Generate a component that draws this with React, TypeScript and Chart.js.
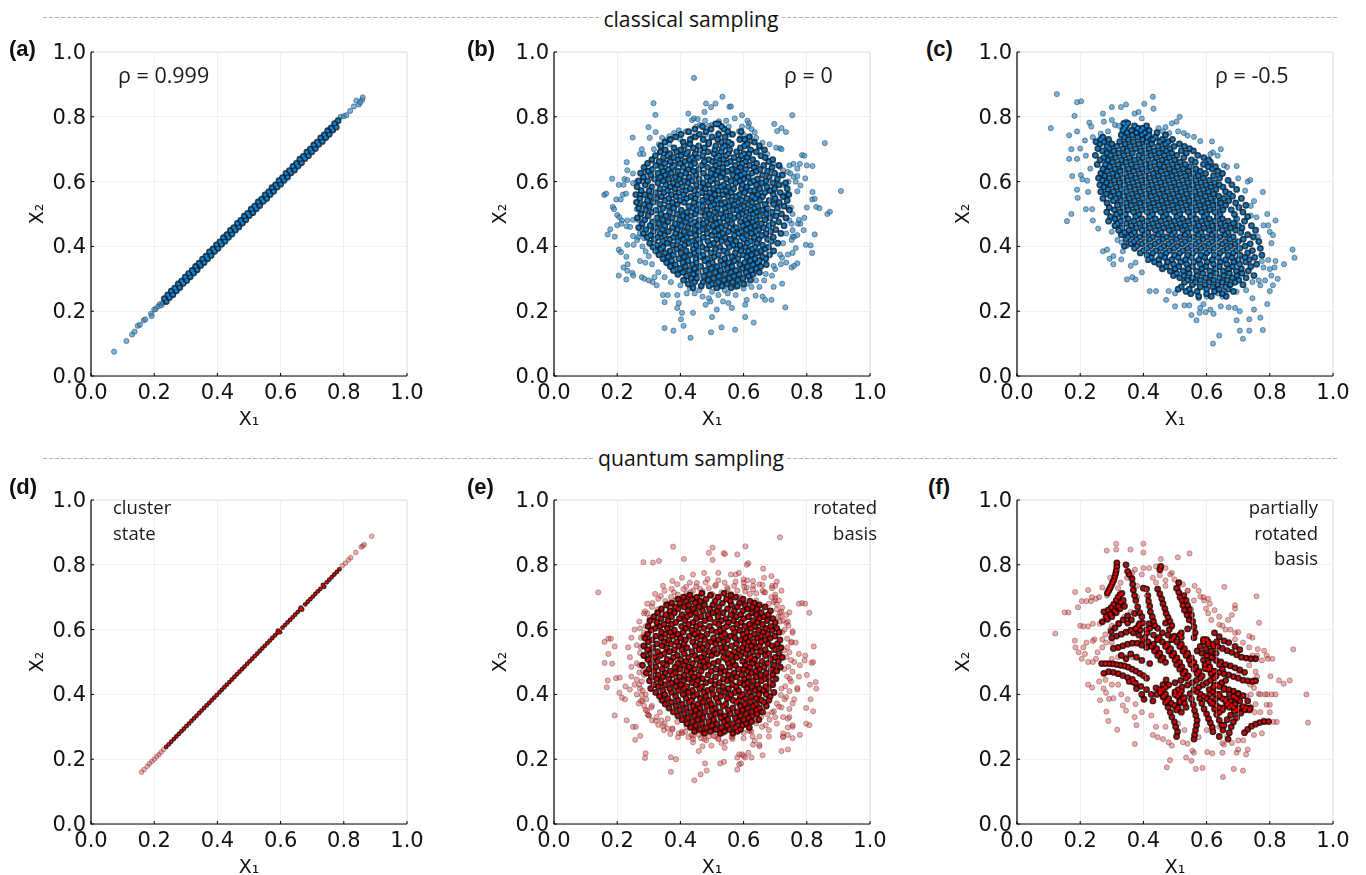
import { useEffect, useRef } from "react";
import { Chart, registerables } from "chart.js";
Chart.register(...registerables);

// All marks are estimated by eye from the picture, in thousandths of the axis.
const tickValues = [0, 0.2, 0.4, 0.6, 0.8, 1];
const xLabel = "X₁";
const yLabel = "X₂";

// flat x,y pairs
const aLoose = [73,75,112,108,130,128,138,137,148,155,155,158,167,172,172,175,190,192,192,185,200,205,205,207,213,215,218,222,223,218,228,226,790,800,800,802,808,805,820,818,832,832,840,850,848,838,858,852,860,860,852,845];
const aDense = [232,239,238,230,243,250,248,242,254,262,259,251,265,271,270,263,276,284,281,273,287,293,292,286,298,305,303,295,309,316,314,306,320,326,325,318,331,338,336,328,342,348,347,341,353,361,358,350,364,370,369,362,375,383,380,372,386,392,391,385,397,405,402,394,408,414,413,407,419,427,424,416,430,436,435,428,441,449,446,438,452,458,457,451,463,471,468,460,474,480,479,472,485,493,490,482,496,502,501,495,507,515,512,504,518,524,523,516,529,537,534,526,540,546,545,539,551,559,556,548,562,568,567,560,573,581,578,570,584,590,589,583,595,603,600,592,606,612,611,604,617,625,622,614,628,634,633,627,639,647,644,636,650,656,655,648,661,669,666,658,672,678,677,671,683,691,688,680,694,700,699,692,705,713,710,702,716,722,721,715,727,735,732,724,738,744,743,736,749,757,754,746,760,766,765,759,771,779,776,768,782,788];
const dLoose = [160,160,168,168,178,178,185,186,193,193,200,200,208,208,215,214,222,222,230,230,795,797,805,805,815,815,822,822,838,838,855,855,860,858,865,862,888,888];
const dDense = [238,238,246,246,254,254,262,262,270,270,278,278,286,286,294,294,302,302,310,310,318,318,326,326,334,334,342,342,350,350,358,358,366,366,374,374,382,382,390,390,398,398,406,406,414,414,422,422,430,430,438,438,446,446,454,454,462,462,470,470,478,478,486,486,494,494,502,502,510,510,518,518,526,526,534,534,542,542,550,550,558,558,566,566,574,574,582,582,590,590,592,597,598,592,606,606,614,614,622,622,630,630,638,638,646,646,654,654,662,662,664,668,668,662,678,678,686,686,694,694,702,702,710,710,718,718,726,726,734,738,738,732,746,746,754,754,762,762,770,770,778,778,786,786];

const bLoose = [443,920,533,862,315,842,481,841,497,830,511,841,555,831,560,832,321,806,425,810,476,815,595,805,754,805,857,719,908,571,299,768,322,753,303,735,249,736,697,778,720,765,706,756,734,753,159,559,165,563,184,609,437,790,443,795,455,793,478,788,522,786,545,788,572,795,612,788,617,780,615,770,625,762,635,752,595,770,553,770,500,775,490,772,462,775,450,770,418,755,395,758,380,750,365,740,342,735,355,728,332,715,316,700,278,700,272,685,283,685,230,660,232,635,250,625,205,590,220,590,186,522,190,515,200,497,207,490,215,480,232,480,250,482,218,560,228,563,197,545,211,545,223,608,232,605,250,595,262,600,170,437,178,453,192,430,200,465,213,470,230,462,241,460,250,432,266,428,205,390,212,382,232,405,252,405,263,420,229,368,233,345,220,335,232,325,248,318,205,310,229,298,251,310,272,355,289,350,278,305,286,300,300,295,325,280,318,305,345,250,360,250,312,290,350,228,395,225,390,210,405,195,440,195,402,175,410,155,350,148,378,140,432,118,497,135,530,150,573,143,632,165,605,182,500,182,515,205,480,220,495,230,535,230,552,225,563,210,605,220,610,235,638,248,660,245,668,235,688,235,695,275,722,285,732,212,390,250,420,255,445,255,470,245,490,240,520,250,550,255,575,250,600,270,625,275,650,275,665,295,690,310,700,330,718,345,735,350,752,335,760,340,770,348,755,430,752,420,760,430,770,435,772,470,780,470,790,450,797,405,812,403,817,380,825,437,792,488,800,520,817,545,825,547,830,522,840,518,865,500,873,507,818,568,775,482,770,570,780,588,765,600,758,615,770,617,795,610,800,650,818,648,785,682,792,680,758,655,778,655,770,640,745,650,742,600,735,555,750,520,755,500,752,470,755,450,765,395,755,380,740,375,722,365,715,645,725,635,740,630,748,625,703,705,715,703,720,700,682,715,660,720,640,735,620,740,600,745,585,755,270,560,268,530,262,515,275,500,268,480,275,460,272,440,285,425,280,400,290,385,300,370,310,345,330,320,350,305,370,290,400,280,430,270,460,265,500,260,540,265,575,275,610,285,640,295,670,315,695,340,715,375,725,410,735,440,745,480,740,520,735,560,725,590,712,620,695,655,675,685,650,705,625,725,590,735,555,745,520,750,480,745,440,740,400,730,365,715,335,690,310,665,290,630,278,600];
// rows: first number is x2, the rest are x1 values
const bCore = [
[778,512,520],[770,470,530],[762,446,538,497],[754,426,481,550,592],[746,402,460,521,565],[738,385,447,500,541,618],[730,368,431,472,518,588,604],[722,351,409,490,530,552,634],[716,430,489,561,612],[710,338,412,458,512,541,603,650],[704,380,441,476,533,590],[698,352,401,463,509,556,622,666],[692,337,388,423,487,529,578,640],[686,366,418,447,506,552,601,617],[680,321,359,402,471,522,544,593,655],[674,347,379,436,455,515,570,611,668],[668,310,392,428,490,536,584,629,692],[662,333,368,414,476,501,558,606,680],[656,296,351,399,445,523,547,596,641],[650,322,381,433,467,512,574,619,664,712],[644,285,340,374,409,486,534,590,633,690],[638,311,362,425,458,503,563,607,652],[632,298,345,392,441,518,549,581,640,676],[626,274,329,371,417,473,497,535,602,626,698],[620,306,352,401,449,512,566,592,660,723],[614,283,337,384,428,484,527,578,615,681],[608,318,363,396,459,503,545,601,644,707],[602,268,296,346,412,437,495,560,588,632,671],[596,329,377,424,472,516,575,621,658,693,733],[590,289,354,391,451,489,537,596,640,712],[584,263,310,368,406,463,528,552,610,674],[578,336,383,431,479,505,569,593,651,698,738],[572,276,301,359,417,445,520,544,621,633,684],[566,322,348,395,468,493,561,603,667,716],[560,259,287,372,410,455,509,534,587,645,694,743],[554,305,340,386,433,482,551,576,628,660,725],[548,272,325,363,420,447,498,523,610,637,700],[542,296,351,399,469,515,562,594,652,681,738],[536,261,314,375,412,443,488,541,583,627,713],[530,284,335,390,458,506,530,571,614,668,695],[524,302,362,427,470,496,553,601,645,728],[518,268,345,379,439,517,541,590,634,675,707],[512,290,323,403,452,484,566,579,622,660,745],[506,310,366,421,465,508,545,609,641,690],[500,275,338,389,447,491,527,596,630,672,720],[494,298,355,408,433,478,558,584,651,703],[488,264,326,374,422,510,536,570,617,684,734],[482,287,345,398,460,497,549,606,640,668],[476,312,361,417,444,483,525,590,629,711],[470,279,332,384,436,473,514,563,612,656,692],[464,304,351,403,455,504,544,598,636,680,728],[458,268,323,375,424,489,530,577,621,663],[452,291,343,391,446,470,519,567,609,648,702],[446,314,362,412,460,508,552,593,639,686],[440,283,336,385,431,485,534,584,625,671,718],[434,305,350,400,448,499,522,571,610,657],[428,295,328,378,420,472,542,595,634,694],[422,318,366,409,456,515,558,601,648,676],[416,344,392,437,487,530,576,622,688],[410,303,358,427,462,506,549,612,642,708],[404,326,376,413,450,493,567,589,660],[398,313,345,399,469,525,555,606,636,679],[392,338,388,441,483,511,578,627,668],[386,322,367,418,456,537,592,615,655,695],[380,352,402,444,497,548,574,642],[374,332,378,431,472,520,598,625,682],[368,361,412,463,507,563,610,660],[362,345,395,449,486,540,582,636,670],[356,372,424,477,528,571,621,650],[350,356,408,451,501,553,603,644],[344,384,438,490,537,588,630,672],[338,368,416,464,516,563,612,654],[332,399,445,498,549,596,640],[326,378,428,480,527,576,624],[320,408,456,511,560,608,650],[314,392,441,492,541,586,630],[308,420,474,522,569,616],[302,434,452,505,555,598],[296,410,488,538,582,622],[290,445,472,520,565],[284,425,500,547,600],[278,466,491,532,580],[272,440,515,560]
];

const cLoose = [126,870,107,765,190,845,203,848,182,803,165,743,190,755,172,700,165,670,175,617,158,478,172,500,192,550,190,575,202,620,207,607,229,782,235,770,240,737,215,727,200,702,190,670,218,680,232,640,222,603,225,568,218,515,238,515,240,480,257,455,272,385,285,390,293,362,305,370,305,345,348,298,375,298,335,385,348,402,331,412,318,420,300,445,310,465,275,785,272,810,300,830,329,830,345,838,372,810,385,815,403,840,430,862,432,825,395,795,345,785,300,790,310,775,322,772,288,755,265,748,515,800,505,785,490,780,470,768,448,765,462,755,482,750,510,755,528,750,540,742,560,738,580,725,617,724,645,700,620,690,612,685,635,680,655,650,665,645,695,648,700,610,730,600,738,605,778,568,750,540,722,572,740,525,740,495,758,490,792,500,795,465,818,480,780,465,800,445,810,435,762,430,805,410,872,390,878,365,845,345,818,355,795,358,775,355,780,335,800,330,815,335,805,310,825,300,810,280,800,262,770,280,745,290,765,295,785,295,792,222,778,142,735,175,705,200,705,140,715,115,620,100,640,125,568,172,552,188,500,215,530,218,545,218,472,235,440,262,420,262,365,305,395,320,360,340,375,350,330,360,578,195,597,197,622,192,612,205,645,215,670,212,690,210,695,172,735,140,695,260,725,265,745,240,750,205,770,180,650,245,660,250,635,255,600,245,575,240,545,262,500,255,480,262,590,222,580,210];
const cCore = [
[780,338,351],[772,345,372,410],[765,340,382,398],[758,335,392,362,418],[751,348,378,405,443],[744,330,395,365,418,470],[737,272,340,382,412,438],[730,265,290,352,398,430,460,492],[723,250,275,325,368,410,452,478],[716,262,300,342,385,426,470,514],[709,285,316,358,402,446,497,530],[702,256,292,335,375,418,461,484,546],[695,270,306,348,391,434,472,520,558],[688,285,322,365,409,450,490,536],[681,248,296,338,386,424,466,506,572],[674,275,312,356,398,441,482,528,591],[667,263,288,331,372,415,459,499,552,606],[660,302,345,390,435,474,516,564,612],[653,254,280,320,362,407,451,492,532,590],[646,293,335,378,422,465,508,548,605,628],[639,272,310,353,396,441,482,526,566,618],[632,285,326,369,412,456,498,542,580,636],[625,265,303,343,387,431,474,516,558,597,650],[618,278,317,360,405,447,490,534,574,622],[611,258,292,334,376,420,463,506,550,590,641],[604,270,308,350,394,437,480,524,566,608,668],[597,283,324,367,410,454,497,540,582,625],[590,262,296,340,384,427,470,513,556,598,640,680],[583,275,314,357,400,444,488,531,572,614,652],[576,288,330,373,417,460,504,547,590,630,695],[569,265,305,346,390,433,476,520,563,606,660],[562,283,322,364,408,451,494,537,580,622,672],[555,296,338,381,424,468,511,554,596,638,682],[548,272,313,355,398,442,485,528,571,613,654,710],[541,305,329,372,415,458,502,545,588,630,670],[534,285,346,389,432,475,518,561,604,645,692],[527,318,361,405,448,492,535,578,620,660,724],[520,292,335,378,422,465,508,551,594,636,702],[513,308,352,395,438,481,525,568,610,652,678],[506,284,326,369,412,455,498,542,584,626,715],[499,315,343,386,429,472,515,558,600,642,688],[492,296,334,376,420,463,506,549,592,634,730],[485,310,352,395,438,481,524,567,609,650,695],[478,290,328,370,412,455,498,541,584,626,668,720],[471,318,346,388,430,473,516,559,602,644,685],[464,310,362,404,447,490,532,575,618,660,700,742],[457,332,378,420,464,507,550,592,634,676,712],[450,322,354,396,438,481,524,566,608,650,692,755],[443,340,372,414,456,498,541,583,626,668,708],[436,330,362,404,447,490,532,574,617,658,730],[429,352,388,430,473,516,558,600,642,684,748],[422,345,378,420,462,505,547,589,632,674,716],[415,370,405,448,490,532,575,617,660,700,765],[408,360,395,437,480,522,565,607,650,690,738],[401,340,380,422,465,507,550,592,634,676,722],[394,372,412,455,497,540,582,624,666,705,770],[387,400,440,482,525,567,609,652,694,745],[380,390,430,472,515,557,600,642,684,730],[373,412,455,498,540,582,625,668,706,775],[366,425,468,510,552,594,637,680,722,752],[359,415,448,490,533,575,618,660,700,735],[352,435,476,518,560,602,644,686,724],[345,450,495,537,580,622,664,704,758],[338,472,512,555,598,640,682,740],[331,460,500,542,585,628,670,710],[324,485,526,568,610,652,694,732],[317,505,545,588,630,672,712],[310,495,528,570,612,654,696,750],[303,515,555,597,640,682,725],[296,540,580,622,665,702],[289,530,565,608,650,690],[282,555,595,635,675,715],[275,520,580,620,660],[268,510,545,600,640,668],[261,535,570,625,685],[254,550,600,650],[246,575,615,662]
];

const eLoose = [715,885,377,856,606,857,502,853,490,837,537,836,541,833,580,832,411,818,502,815,283,808,313,807,332,812,140,715,382,580,160,562,172,572,180,572,192,548,172,525,160,497,184,495,196,450,208,452,170,443,167,422,207,405,226,425,240,415,215,390,225,385,192,335,230,320,250,300,259,300,257,260,273,272,290,218,288,204,370,206,386,200,370,161,444,135,464,153,483,165,478,187,526,187,538,192,592,187,586,184,580,168,586,215,600,210,615,220,720,225,650,240,630,245,680,270,740,275,755,265,778,275,798,310,755,300,820,348,798,358,812,385,830,418,828,438,820,500,822,548,795,520,808,652,795,680,785,682,775,680,745,653,735,645,705,748,700,735,688,765,662,788,615,805,610,800,585,775,575,770,590,540,793,505,815,497,800,460,810,430,770,415,755,372,745,330,755,305,725,270,725,280,808,305,740,325,725,268,740,230,650,245,635,257,628,270,620,288,605,205,660,212,625,205,595,215,580,205,540,235,530,250,520,265,498,242,475,262,470,240,458,225,440,252,425,268,395,280,360,295,340,320,300,335,285,365,275,380,262,400,255,430,245,455,245,485,240,515,235,545,245,575,255,600,270,625,285,650,295,680,320,710,345,735,375,750,405,760,440,770,475,775,520,775,560,770,600,755,630,735,665,715,695,685,720,655,740,625,755,595,765,560,775,525,778,490,775,455,770,420,760,385,745,355,725,330,705,310,680,290,650,270,620];
const eRing = [605,715,625,710,640,705,662,700,690,720,720,700,700,690,735,680,680,665,760,670,645,660,720,650,740,640,690,630,750,620,710,610,730,600,745,590,700,580,720,570,735,560,710,550,725,540,745,530,715,520,700,510,735,500,710,490,728,480,745,470,712,460,700,450,733,440,720,430,745,420,705,410,725,400,690,390,740,380,715,370,700,360,680,350,720,340,660,330,695,320,640,310,670,300,620,295,650,285,590,290,610,275,575,275,545,285,520,270,490,285,460,270,430,290,400,280,380,295,350,310,365,325,330,335,345,350,310,360,325,375,295,390,315,405,285,420,300,435,275,450,295,465,265,475,285,490,270,505,290,520,262,535,280,550,300,565,270,585,290,600,265,610,305,625,285,640,310,655,330,670,305,690,345,700,330,720,360,730,385,745,410,750,440,755,470,760,500,745,530,750,560,755,590,735,620,740,
298,640,318,675,338,705,372,718,398,732,425,738,455,742,485,735,515,738,545,738,572,730,600,725,628,715,652,705,678,688,700,668,715,640,712,605,718,580,700,545,715,505,705,470,718,445,698,420,712,385,692,365,670,342,648,322,625,305,600,295,572,288,548,295,508,282,472,278,440,280,412,292,385,308,360,300,335,322,318,345,302,375,292,405,280,440,272,470,282,510,270,528,278,565,262,590,295,615,
288,658,300,682,322,696,348,712,362,735,392,720,418,746,448,728,478,750,506,728,536,752,562,722,592,742,612,718,640,722,668,712,690,700,708,690,728,660,738,630,724,612,752,602,732,575,748,548,730,520,752,512,738,486,756,462,726,452,744,432,716,418,732,392,708,372,726,352,688,338,704,328,662,312,682,302,636,288,656,272,604,282,580,262,552,272,528,262,496,270,468,262,446,272,418,278,398,268,372,290,352,296,338,310,320,330,306,348,290,368,278,392,268,415,284,440,262,458,276,482,258,505,272,542,254,562,268,600,282,622];
const eCore = [
[712,468,538],[706,430,495,560],[700,410,452,520,575],[694,392,437,481,546,598],[688,418,463,510,558,620],[682,372,399,447,533,587,634],[676,356,426,476,503,561,605,650],[670,384,412,459,522,580,628,668],[664,340,393,441,492,549,612,643],[658,367,424,470,516,571,598,685],[652,328,381,448,503,535,626,656],[646,354,405,431,487,560,590,640,678],[640,316,372,422,465,519,577,615,664],[634,339,397,451,493,544,600,650,692],[628,304,361,414,478,530,568,630,675],[622,326,385,440,509,552,592,644,700],[616,348,372,426,463,521,579,618,660],[610,298,335,404,451,492,546,604,636,686],[604,320,359,417,474,537,566,624,670,705],[598,308,381,436,499,525,588,648,690],[592,340,368,409,456,515,572,610,662,712],[586,296,352,392,445,484,540,598,634,676],[580,322,375,428,466,530,558,621,655,699],[574,288,339,400,453,505,573,606,643,684],[568,310,363,416,477,520,549,590,668,715],[562,298,348,388,439,496,537,615,632,656],[556,326,370,411,462,512,577,603,677,707],[550,284,342,395,447,486,562,624,650,690],[544,312,356,421,470,528,544,597,640,718],[538,296,381,405,459,507,585,612,668,698],[532,328,366,437,490,533,571,628,654],[526,305,349,412,476,515,552,606,680,712],[520,284,337,390,446,499,562,590,645,669],[514,318,378,426,465,537,578,622,700,722],[508,298,358,401,452,484,546,614,635,686],[502,327,369,418,473,520,565,597,658,710],[496,306,345,392,438,505,552,628,676],[490,280,356,411,461,489,574,606,643,696],[484,322,383,428,478,530,556,620,665,716],[478,300,342,399,445,512,584,600,650,688],[472,316,367,420,466,498,541,612,638,705],[466,292,352,384,434,527,570,625,672],[460,330,375,412,458,488,552,594,654,692],[454,308,344,397,443,511,578,615,640,680],[448,325,363,426,470,536,562,603,668,702],[442,302,388,410,455,497,548,630,656],[436,338,372,437,481,523,588,612,684],[430,316,352,402,449,509,565,601,644,692],[424,330,385,420,467,535,576,626,670],[418,306,366,412,461,500,552,610,650,678],[412,344,393,438,486,522,584,636,662],[406,322,372,426,474,541,572,618,696],[400,350,409,452,503,560,598,648,672],[394,334,385,441,480,527,590,625,684],[388,360,418,463,514,548,606,640],[382,342,392,436,491,566,586,656,680],[376,372,428,472,520,578,622,664],[370,352,406,455,498,544,604,640],[364,386,440,484,535,590,630,672],[358,364,418,462,510,566,612,650],[352,398,448,500,552,596,640],[346,378,432,478,526,580,626,660],[340,412,460,512,558,608,642],[334,392,444,495,540,590,628],[328,424,472,528,574,616],[322,406,456,505,550,600,648],[316,438,490,538,584,625],[310,420,468,516,566,608],[304,448,500,548,596],[298,432,482,530,575,618],[292,462,512,556,590],[286,445,495,540,580],[280,476,526,566]
];

const fLoose = [121,588,151,653,163,653,184,716,183,566,193,669,284,844,314,865,314,847,359,847,400,865,400,838,455,818,509,823,546,835,656,732,758,703,766,621,874,539,916,400,921,313,829,443,844,433,863,443,802,456,794,510,808,510,652,145,686,170,715,165,587,173,566,170,474,175,484,197,490,242,373,247,317,291,289,318,283,347,263,382,238,421,225,430,291,386,274,418,282,405,305,388,335,366,345,350,372,330,378,305,430,275,445,268,462,262,480,252,525,252,540,248,555,226,560,220,535,205,552,195,602,222,618,218,650,220,655,245,665,270,695,220,725,215,730,230,750,275,775,280,700,230,680,250,700,258,716,258,752,345,770,345,790,368,800,368,792,400,806,400,818,400,785,400,800,345,780,320,822,315,812,315,775,505,782,535,790,520,762,540,735,545,745,520,755,470,760,455,750,445,765,402,740,400,725,395,690,590,700,592,660,600,650,612,640,615,615,630,605,650,598,665,690,675,680,645,690,665,610,680,592,690,580,702,560,690,540,720,525,740,490,775,470,790,510,745,470,752,452,768,440,795,418,790,400,790,395,770,373,785,365,775,348,760,328,745,320,728,380,735,370,722,225,722,237,700,250,695,260,700,295,760,285,705,270,730,205,688,220,688,234,688,185,545,195,530,210,545,220,560,205,510,215,525,225,500,240,500,250,510,210,610,225,610,240,618,200,612,262,618,270,625,240,565,245,570,270,570,280,585,295,600,300,612,255,530,270,545,282,560,
430,760,440,745,470,735,485,770,498,755,510,730,540,720,562,735,575,720,590,700,605,695,625,660,640,640,668,630,675,600,690,570,715,560,735,580,745,575,760,520,702,470,735,490,738,430,750,420,770,400,740,360,755,370,650,250,640,300,600,290,575,268,530,290,510,310,470,300,440,300,425,335,395,345,375,370,350,385,330,400,320,430,300,430,280,445,260,440,300,510,320,515,345,515,365,515,300,560,320,620,340,640,360,655,380,700];
const fBands = [
286,713,290,720,294,727,298,735,302,744,306,752,309,762,312,772,314,782,316,795,316,806,
275,655,288,660,298,668,306,678,314,690,320,700,326,708,332,712,
282,640,296,648,308,658,320,672,328,684,336,690,
270,624,286,632,300,640,314,652,326,664,340,672,
298,594,310,605,322,618,336,630,350,642,
345,800,350,780,355,770,364,757,366,740,368,722,372,705,376,690,382,670,388,652,395,640,
400,728,410,725,414,705,416,688,420,672,422,655,428,640,432,625,436,612,
445,725,452,710,458,695,462,680,468,665,472,650,478,638,484,625,490,612,
455,795,452,785,512,745,505,728,512,715,516,700,522,690,525,675,530,660,538,645,545,630,
528,705,535,690,540,675,548,662,552,645,556,625,560,608,564,590,
268,495,280,495,292,495,304,494,316,492,328,490,340,488,352,484,364,478,376,472,388,465,400,458,410,450,
275,465,290,470,305,468,320,464,335,458,350,452,365,446,
305,542,320,545,335,550,350,555,365,558,380,558,395,552,410,545,
300,575,315,580,330,586,345,592,360,598,375,602,390,598,
590,570,605,562,620,555,635,548,650,542,665,535,680,530,695,522,710,515,725,512,740,510,755,510,
595,480,610,478,625,472,640,468,655,464,670,460,685,455,700,450,715,444,730,442,745,440,755,442,
600,520,615,515,630,505,645,500,660,492,675,488,690,482,705,476,720,468,
625,428,640,425,655,420,670,415,685,410,700,402,715,396,730,380,
560,262,562,275,565,290,568,305,570,320,566,335,562,350,558,368,552,385,548,402,
505,270,508,285,502,300,498,315,490,330,485,345,478,360,470,375,462,392,452,405,440,420,
620,285,618,298,612,312,606,325,600,340,592,355,585,372,578,388,
640,270,652,290,648,305,640,320,632,338,625,355,615,372,
720,282,730,292,742,302,755,308,768,313,782,316,796,316,
668,262,672,282,678,300,685,315,695,328,708,342,720,352,738,358,
655,305,665,322,676,336,688,348,702,358,715,362,
640,345,652,358,664,368,676,380,688,392,700,402,
430,380,442,400,452,415,462,430,472,445,
395,400,402,385,378,418,368,438,355,440,375,435,392,425,410,415,425,400,
330,520,345,510,360,525,378,515,395,505,420,495,
350,620,362,630,372,650,385,612,398,620,410,600,
470,620,482,600,498,580,520,590,540,602,560,575,
625,590,640,578,655,565,670,560,690,548,705,538,
610,400,628,385,640,400,660,385,672,360,690,370,
520,345,535,360,515,375,530,390,500,400,520,410
];
const fCore = [
[618,388,418],[604,378,420,445],[590,368,412,460],[583,385,432,478,515],[576,405,450,494,520],[569,398,444,490,600],[562,415,460,506,590,632],[555,432,476,520,605],[548,425,470,515,580,622],[541,442,486,530,598],[534,435,480,525,570,614],[527,452,496,540,585,630],[520,445,490,535,602],[513,462,506,552,618],[506,455,500,545,590],[499,470,515,560,605],[492,505,550,595,640],[485,522,566,610],[478,515,560,604,650],[471,532,576,622],[464,525,570,614],[457,542,586,630],[450,535,580,624],[443,518,568,612,660],[436,500,555,600,648],[429,480,540,588,634],[422,470,522,575,622],[415,462,510,560,608,655],[408,455,500,570,620],[401,470,515,580,630,672],[394,465,508,590,640,685],[387,480,525,600,650,695],[380,475,515,610,660,705],[373,488,530,620,668],[366,498,630,678],[359,510,640,685,725],[352,505,650,695,735]
];

const panels = [
  { tag: "(a)", color: "blue", loose: aLoose, bands: aDense, rows: [], seams: [], left: 90.5, top: 51.5, tagX: 9, tagY: 36 },
  { tag: "(b)", color: "blue", loose: bLoose, bands: [], rows: bCore, seams: [[315,300,650],[460,300,720],[680,340,560]], left: 554, top: 51.5, tagX: 467, tagY: 36 },
  { tag: "(c)", color: "blue", loose: cLoose, bands: [], rows: cCore, seams: [[335,450,650],[405,330,720],[555,300,650],[630,300,550],[700,350,530]], left: 1017, top: 51.5, tagX: 926, tagY: 36 },
  { tag: "(d)", color: "red", loose: dLoose, bands: dDense, rows: [], seams: [], left: 90.5, top: 499.5, tagX: 9, tagY: 474 },
  { tag: "(e)", color: "red", loose: [...eLoose, ...eRing], bands: [], rows: eCore, seams: [[310,420,600],[680,400,520]], left: 554, top: 499.5, tagX: 467, tagY: 474 },
  { tag: "(f)", color: "red", loose: fLoose, bands: fBands, rows: fCore, seams: [[405,430,730],[555,370,670],[630,330,550],[700,300,370]], left: 1017, top: 499.5, tagX: 928, tagY: 474 },
];

const notes = [
  { lines: ["ρ = 0.999"], x: 118, y: 62, size: 21.5, right: false },
  { lines: ["ρ = 0"], x: 784, y: 62, size: 21.5, right: false },
  { lines: ["ρ = -0.5"], x: 1215, y: 62, size: 21.5, right: false },
  { lines: ["cluster", "state"], x: 113, y: 494, size: 18.5, right: false },
  { lines: ["rotated", "basis"], x: 877, y: 494, size: 18.5, right: true },
  { lines: ["partially", "rotated", "basis"], x: 1318, y: 494, size: 18.5, right: true },
];
const headings = [
  { text: "classical sampling", y: 17, dy: -12.5 },
  { text: "quantum sampling", y: 458, dy: -14.5 },
];

const STYLE: any = {
  blue: { looseBg: "rgba(45,140,205,0.65)", looseEdge: "rgba(40,60,75,0.55)", under: "rgba(5,38,62,0.88)", coreBg: "rgb(18,132,212)", coreEdge: "rgba(0,20,40,0)" },
  red: { looseBg: "rgba(225,50,50,0.42)", looseEdge: "rgba(60,40,40,0.38)", under: "rgba(40,0,0,0.88)", coreBg: "rgb(226,0,0)", coreEdge: "rgba(30,0,0,0)" },
};

const pairs = (flat: number[]) => {
  const out = [];
  for (let i = 0; i + 1 < flat.length; i += 2) out.push({ x: flat[i] / 1000, y: flat[i + 1] / 1000 });
  return out;
};
const unrow = (rows: number[][]) => rows.flatMap(([y, ...xs]) => xs.map((x) => ({ x: x / 1000, y: y / 1000 })));
// draw order only: overlap should not follow the typed rows
const mixed = (pts: { x: number; y: number }[]) =>
  pts.map((p) => [((p.x * 1000 * 7919 + p.y * 1000 * 104729) | 0) % 1009, p] as const).sort((a, b) => a[0] - b[0]).map((e) => e[1]);

const framePlugin = {
  id: "frame",
  beforeDatasetsDraw(chart: any) {
    const { ctx, chartArea: c } = chart;
    ctx.save();
    ctx.strokeStyle = "#e2e2e2";
    ctx.lineWidth = 1;
    ctx.beginPath();
    ctx.moveTo(c.left, c.top);
    ctx.lineTo(c.right, c.top);
    ctx.lineTo(c.right, c.bottom);
    ctx.stroke();
    ctx.restore();
  },
  afterDatasetsDraw(chart: any, _a: any, opts: any) {
    const { ctx, chartArea: c, scales } = chart;
    ctx.save();
    ctx.strokeStyle = "rgba(200,208,215,0.4)";
    ctx.lineWidth = 1;
    for (const [x, y0, y1] of opts.seams) {
      const px = Math.round(scales.x.getPixelForValue(x / 1000)) + 0.5;
      ctx.beginPath();
      ctx.moveTo(px, scales.y.getPixelForValue(y0 / 1000));
      ctx.lineTo(px, scales.y.getPixelForValue(y1 / 1000));
      ctx.stroke();
    }
    ctx.strokeStyle = "#000";
    ctx.lineWidth = 1.2;
    ctx.beginPath();
    ctx.moveTo(c.left, c.top);
    ctx.lineTo(c.left, c.bottom);
    ctx.lineTo(c.right, c.bottom);
    ctx.stroke();
    ctx.lineWidth = 1;
    ctx.beginPath();
    for (const t of tickValues) {
      const px = scales.x.getPixelForValue(t);
      const py = scales.y.getPixelForValue(t);
      ctx.moveTo(px, c.bottom);
      ctx.lineTo(px, c.bottom - 3);
      ctx.moveTo(c.left, py);
      ctx.lineTo(c.left + 3, py);
    }
    ctx.stroke();
    ctx.restore();
  },
};

function Panel({ p }: { p: (typeof panels)[number] }) {
  const ref = useRef<HTMLCanvasElement>(null);
  useEffect(() => {
    const s = STYLE[p.color];
    const thin = p.tag === "(d)";
    const dot = (data: any[], bg: string, edge: string, r: number, w: number) => ({
      data,
      backgroundColor: bg,
      borderColor: edge,
      borderWidth: w,
      pointRadius: r,
      pointHoverRadius: r,
    });
    const axisFont = { family: "'DejaVu Sans'", size: 21 };
    const titleFont = { family: "'DejaVu Sans'", size: 19 };
    const common = {
      min: 0,
      max: 1,
      type: "linear",
      grid: { color: "#f0f0f0", lineWidth: 1, drawTicks: false },
      border: { display: false },
    };
    const core = mixed(pairs(p.bands).concat(unrow(p.rows)));
    const chart = new Chart(ref.current!, {
      type: "scatter",
      data: {
        // Chart.js paints the first dataset last, so the bright dots come first
        datasets: [
          dot(core, s.coreBg, s.coreEdge, thin ? 1.2 : 1.6, 0),
          dot(core, s.under, s.under, thin ? 2.4 : 3.4, 0),
          dot(pairs(p.loose), s.looseBg, s.looseEdge, thin ? 2.4 : 2.6, 0.9),
        ],
      },
      plugins: [framePlugin],
      options: {
        animation: false,
        responsive: false,
        clip: false,
        layout: { padding: { top: 20, right: 30, left: 0, bottom: 0 } },
        plugins: { legend: { display: false }, tooltip: { enabled: false }, frame: { seams: p.seams } },
        scales: {
          x: {
            ...common,
            afterFit: (sc: any) => { sc.height = 55; },
            afterBuildTicks: (sc: any) => { sc.ticks = tickValues.map((value) => ({ value })); },
            ticks: { color: "#111", font: axisFont, padding: 5, maxRotation: 0, autoSkip: false, callback: (v: any) => Number(v).toFixed(1) },
            title: { display: true, text: xLabel, color: "#111", font: titleFont, padding: 0 },
          },
          y: {
            ...common,
            afterFit: (sc: any) => { sc.width = 64; },
            afterBuildTicks: (sc: any) => { sc.ticks = tickValues.map((value) => ({ value })); },
            ticks: { color: "#111", font: axisFont, padding: 5, labelOffset: 1.5, autoSkip: false, callback: (v: any) => Number(v).toFixed(1) },
            title: { display: true, text: yLabel, color: "#111", font: titleFont, padding: { top: 0, bottom: 0 } },
          },
        },
      } as any,
    } as any);
    return () => chart.destroy();
  }, [p]);
  return (
    <canvas
      ref={ref}
      width={64 + 316 + 30}
      height={20 + 324 + 55}
      style={{ position: "absolute", left: p.left - 64, top: p.top - 20, width: 410, height: 399 }}
    />
  );
}

export default function App() {
  return (
    <div style={{ position: "absolute", left: 0, top: 0, width: 1366, height: 875, background: "#fff", overflow: "hidden" }}>
      {panels.map((p) => <Panel key={p.tag} p={p} />)}
      {panels.map((p) => (
        <div key={p.tag + "t"} style={{ position: "absolute", left: p.tagX, top: p.tagY, font: "bold 22px/26px 'Liberation Sans'", color: "#111" }}>{p.tag}</div>
      ))}
      {notes.map((n) => (
        <div key={n.lines[0]} style={{
          position: "absolute", top: n.y, color: "#1a1a1a", font: `${n.size}px/25.6px 'Open Sans'`,
          ...(n.right ? { right: 1366 - n.x, textAlign: "right" as const } : { left: n.x }),
        }}>
          {n.lines.map((l) => <div key={l}>{l}</div>)}
        </div>
      ))}
      {headings.map((h) => (
        <div key={h.text}>
          <div style={{ position: "absolute", left: 43, width: 1295, top: h.y, height: 1, background: "repeating-linear-gradient(90deg,#b4b4b4 0 4px,transparent 4px 6px)" }} />
          <div style={{ position: "absolute", left: 0, width: 1366, top: h.y + h.dy, textAlign: "center", font: "21.2px/28px 'Open Sans'", color: "#111" }}>
            <span style={{ background: "#fff", padding: "0 3px", marginLeft: 16 }}>{h.text}</span>
          </div>
        </div>
      ))}
    </div>
  );
}
